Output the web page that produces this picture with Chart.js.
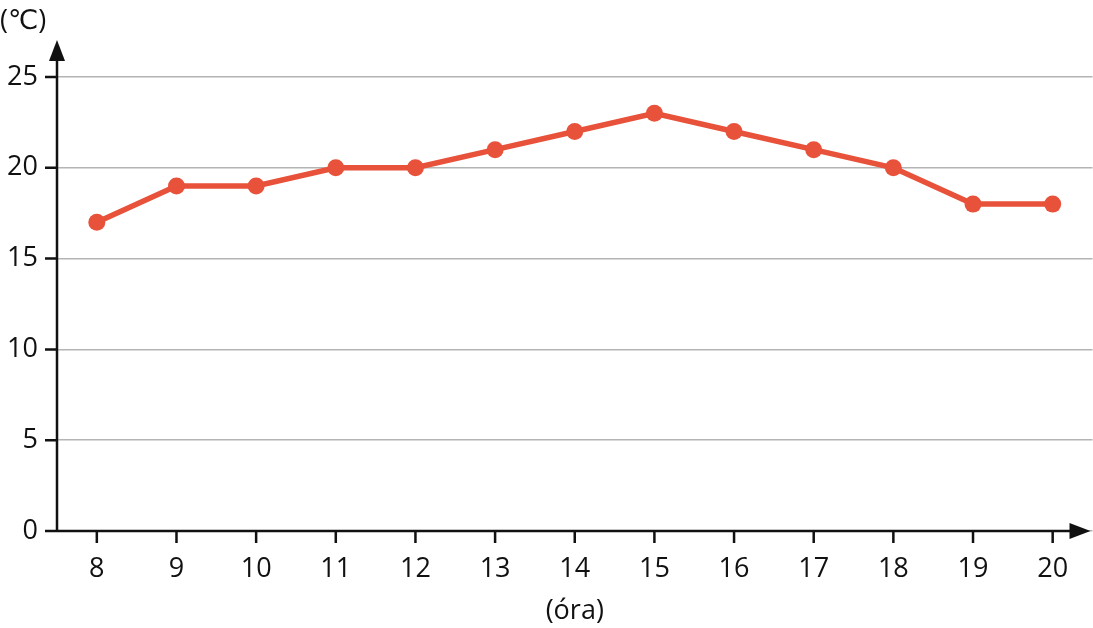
<!DOCTYPE html>
<html>
<head>
<meta charset="utf-8">
<script src="https://cdn.jsdelivr.net/npm/chart.js@4"></script>
<style>
  body { margin: 0; background: #fff; overflow: hidden; }
  #wrap { width: 1101px; height: 628px; position: relative; }
</style>
</head>
<body>
<div id="wrap"><canvas id="temp-chart"></canvas></div>
<script>
const hours = ['8', '9', '10', '11', '12', '13', '14', '15', '16', '17', '18', '19', '20'];
const temps = [17, 19, 19, 20, 20, 21, 22, 23, 22, 21, 20, 18, 18];
const yTicks = [0, 5, 10, 15, 20, 25];
const yUnit = '(℃)';
const xUnit = '(óra)';

const FONT = '"Open Sans", "DejaVu Sans", sans-serif';
const RED = '#e8513a';

// axes with arrows, black tick marks, unit label
const axesPlugin = {
  id: 'axes',
  afterDatasetsDraw(chart) {
    const ctx = chart.ctx;
    const area = chart.chartArea;
    const x = chart.scales.x;
    const y = chart.scales.y;
    const tip = area.right - 2;
    ctx.save();
    ctx.strokeStyle = '#111';
    ctx.fillStyle = '#111';
    ctx.lineWidth = 2.5;
    ctx.beginPath();
    // y axis
    ctx.moveTo(area.left, area.bottom);
    ctx.lineTo(area.left, 50);
    // x axis
    ctx.moveTo(area.left - 12, area.bottom);
    ctx.lineTo(tip - 10, area.bottom);
    // y tick marks
    yTicks.forEach(v => {
      const py = y.getPixelForValue(v);
      ctx.moveTo(area.left - 12, py);
      ctx.lineTo(area.left, py);
    });
    // x tick marks
    hours.forEach((h, i) => {
      const px = x.getPixelForValue(i);
      ctx.moveTo(px, area.bottom);
      ctx.lineTo(px, area.bottom + 12);
    });
    ctx.stroke();
    // arrow heads
    ctx.beginPath();
    ctx.moveTo(area.left, 40);
    ctx.lineTo(area.left - 8, 61);
    ctx.lineTo(area.left + 8, 61);
    ctx.closePath();
    ctx.fill();
    ctx.beginPath();
    ctx.moveTo(tip, area.bottom);
    ctx.lineTo(tip - 21, area.bottom - 8);
    ctx.lineTo(tip - 21, area.bottom + 8);
    ctx.closePath();
    ctx.fill();
    // unit label
    ctx.font = '27px ' + FONT;
    ctx.textAlign = 'left';
    ctx.textBaseline = 'middle';
    ctx.fillText(yUnit, 0, 21);
    ctx.restore();
  }
};

new Chart(document.getElementById('temp-chart'), {
  type: 'line',
  data: {
    labels: hours,
    datasets: [{
      data: temps,
      borderColor: RED,
      backgroundColor: RED,
      borderWidth: 5.5,
      pointRadius: 8.5,
      pointHoverRadius: 8.5,
      pointBackgroundColor: RED,
      pointBorderWidth: 0,
      tension: 0
    }]
  },
  options: {
    responsive: true,
    maintainAspectRatio: false,
    animation: false,
    layout: { padding: { top: 77, right: 0, left: 0, bottom: 0 } },
    plugins: {
      legend: { display: false },
      tooltip: { enabled: false }
    },
    scales: {
      x: {
        offset: true,
        grid: { display: false, drawTicks: false },
        border: { display: false },
        ticks: {
          color: '#111',
          padding: 22,
          font: { family: FONT, size: 27 },
          maxRotation: 0
        },
        title: {
          display: true,
          text: xUnit,
          color: '#111',
          font: { family: FONT, size: 27 },
          padding: { top: -3, bottom: 0 }
        },
        afterFit(scale) { scale.height = 97; }
      },
      y: {
        min: 0,
        max: 25,
        grid: { color: '#b4b4b4', lineWidth: 1.5, drawTicks: false },
        border: { display: false },
        afterBuildTicks(scale) { scale.ticks = yTicks.map(v => ({ value: v })); },
        ticks: {
          color: '#111',
          padding: 19,
          font: { family: FONT, size: 27 }
        },
        afterFit(scale) { scale.width = 57; }
      }
    }
  },
  plugins: [axesPlugin]
});
</script>
</body>
</html>
